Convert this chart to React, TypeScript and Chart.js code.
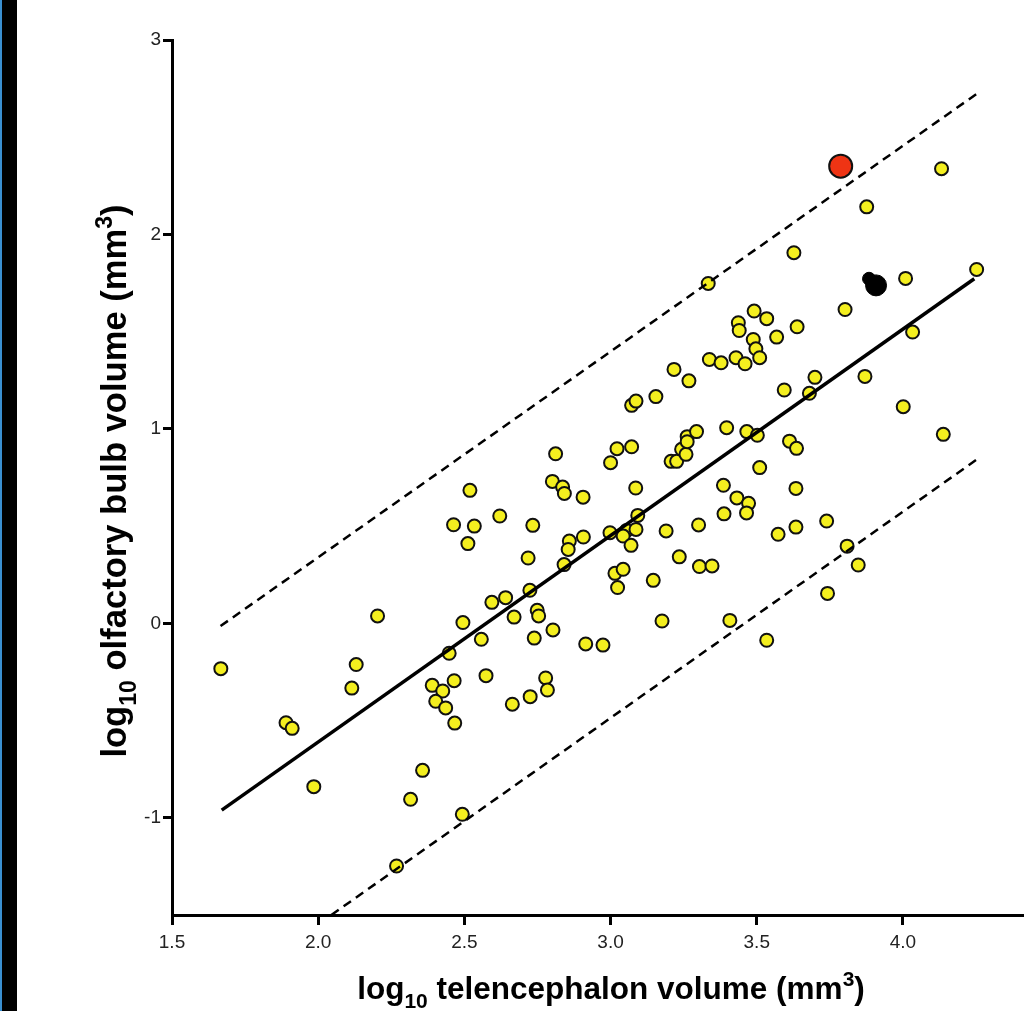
import React, { useEffect, useRef } from "react";
import { Chart, registerables } from "chart.js";

Chart.register(...registerables);

// log10 telencephalon volume (x) and log10 olfactory bulb volume (y) per species
const speciesLogTelencephalon = [
  1.667, 1.89, 1.911, 1.985, 2.13, 2.115, 2.203, 2.357, 2.316, 2.268,
  2.493, 2.495, 2.448, 2.39, 2.426, 2.465, 2.402, 2.436, 2.467, 2.558,
  2.574, 2.664, 2.725, 2.778, 2.784, 2.739, 2.803, 2.749, 2.754, 2.67,
  2.594, 2.641, 2.724, 2.718, 2.841, 2.915, 2.974, 2.519, 2.463, 2.534,
  2.512, 2.621, 2.734, 2.859, 2.855, 2.907, 2.812, 2.801, 2.836, 2.842,
  2.906, 2.998, 3.055, 3.087, 3.043, 3.093, 3.07, 3.19, 3.301, 3.388,
  3.432, 3.472, 3.465, 3.573, 3.015, 3.043, 3.024, 3.146, 3.235, 3.304,
  3.347, 3.176, 3.408, 3.534, 3.0, 3.022, 3.072, 3.086, 3.207, 3.226,
  3.243, 3.258, 3.262, 3.262, 3.294, 3.155, 3.072, 3.087, 3.217, 3.268,
  3.338, 3.378, 3.429, 3.46, 3.488, 3.497, 3.51, 3.491, 3.534, 3.437,
  3.44, 3.638, 3.568, 3.334, 3.627, 3.397, 3.466, 3.502, 3.51, 3.386,
  3.612, 3.636, 3.634, 3.594, 3.68, 3.699, 3.87, 3.802, 3.876, 4.132,
  4.009, 4.252, 4.033, 4.001, 4.138, 3.739, 3.634, 3.809, 3.847, 3.742,
];
const speciesLogOlfactoryBulb = [
  -0.233, -0.511, -0.54, -0.84, -0.212, -0.333, 0.038, -0.756, -0.905, -1.248,
  -0.982, 0.004, -0.154, -0.319, -0.348, -0.295, -0.401, -0.435, -0.513, -0.082,
  -0.269, -0.416, -0.377, -0.281, -0.343, -0.076, -0.034, 0.067, 0.038, 0.032,
  0.108, 0.132, 0.17, 0.336, 0.302, -0.106, -0.112, 0.684, 0.507, 0.5,
  0.41, 0.552, 0.504, 0.423, 0.38, 0.444, 0.872, 0.73, 0.701, 0.668,
  0.649, 0.466, 0.478, 0.483, 0.449, 0.555, 0.401, 0.475, 0.506, 0.563,
  0.645, 0.617, 0.568, 0.458, 0.257, 0.278, 0.184, 0.221, 0.342, 0.292,
  0.295, 0.012, 0.015, -0.087, 0.826, 0.898, 0.908, 0.696, 0.833, 0.833,
  0.895, 0.869, 0.96, 0.934, 0.986, 1.166, 1.121, 1.143, 1.306, 1.247,
  1.357, 1.34, 1.366, 1.335, 1.46, 1.412, 1.366, 1.606, 1.567, 1.546,
  1.506, 1.525, 1.472, 1.748, 1.906, 1.006, 0.986, 0.967, 0.801, 0.71,
  0.937, 0.9, 0.694, 1.2, 1.183, 1.265, 1.27, 1.614, 2.142, 2.338,
  1.774, 1.82, 1.498, 1.114, 0.972, 0.526, 0.495, 0.397, 0.3, 0.154,
];

const redPointX = [3.787];
const redPointY = [2.351];
const blackPointX = [3.908];
const blackPointY = [1.738];
const hiddenPointX = [3.884];
const hiddenPointY = [1.772];

const fitLineX = [1.67, 4.244];
const fitLineY = [-0.961, 1.772];
const upperBandX = [1.666, 4.254];
const upperBandY = [-0.014, 2.725];
const lowerBandX = [2.045, 4.253];
const lowerBandY = [-1.5, 0.843];

const xTickValues = [1.5, 2.0, 2.5, 3.0, 3.5, 4.0];
const yTickValues = [-1, 0, 1, 2, 3];

const xTitleParts = [
  { t: "log", k: "n" },
  { t: "10", k: "sub" },
  { t: " telencephalon volume (mm", k: "n" },
  { t: "3", k: "sup" },
  { t: ")", k: "n" },
];
const yTitleParts = [
  { t: "log", k: "n" },
  { t: "10", k: "sub" },
  { t: " olfactory bulb volume (mm", k: "n" },
  { t: "3", k: "sup" },
  { t: ")", k: "n" },
];

const FONT = '"Liberation Sans", Arial, Helvetica, sans-serif';

function zip(xs: number[], ys: number[]) {
  return xs.map((x, i) => ({ x, y: ys[i] }));
}

function drawRich(ctx: CanvasRenderingContext2D, parts: { t: string; k: string }[], cx: number, baseY: number, size: number) {
  const small = Math.round(size * 0.66);
  const fontFor = (k: string) => `bold ${k === "n" ? size : small}px ${FONT}`;
  let total = 0;
  const widths = parts.map((p) => {
    ctx.font = fontFor(p.k);
    const w = ctx.measureText(p.t).width;
    total += w;
    return w;
  });
  let x = cx - total / 2;
  ctx.textBaseline = "alphabetic";
  ctx.textAlign = "left";
  ctx.fillStyle = "#000";
  parts.forEach((p, i) => {
    ctx.font = fontFor(p.k);
    const dy = p.k === "sub" ? size * 0.28 : p.k === "sup" ? -size * 0.4 : 0;
    ctx.fillText(p.t, x, baseY + dy);
    x += widths[i];
  });
}

const titlePlugin = {
  id: "richTitles",
  afterDraw(chart: any) {
    const ctx = chart.ctx as CanvasRenderingContext2D;
    ctx.save();
    drawRich(ctx, xTitleParts, 611, 999, 31.5);
    ctx.restore();
    ctx.save();
    ctx.translate(126, 481);
    ctx.rotate(-Math.PI / 2);
    drawRich(ctx, yTitleParts, 0, 0, 34.6);
    ctx.restore();
  },
};

export default function App() {
  const ref = useRef<HTMLCanvasElement | null>(null);
  useEffect(() => {
    if (!ref.current) return;
    const chart = new Chart(ref.current, {
      type: "scatter",
      data: {
        datasets: [
          {
            type: "line",
            data: zip(fitLineX, fitLineY),
            borderColor: "#000",
            borderWidth: 3.5,
            pointRadius: 0,
            fill: false,
            order: 1,
          } as any,
          {
            type: "line",
            data: zip(upperBandX, upperBandY),
            borderColor: "#000",
            borderWidth: 2.5,
            borderDash: [9, 6],
            pointRadius: 0,
            fill: false,
            order: 1,
          } as any,
          {
            type: "line",
            data: zip(lowerBandX, lowerBandY),
            borderColor: "#000",
            borderWidth: 2.5,
            borderDash: [9, 6],
            pointRadius: 0,
            fill: false,
            order: 1,
          } as any,
          {
            data: zip(redPointX, redPointY),
            backgroundColor: "#ef3414",
            borderColor: "#111",
            borderWidth: 2,
            pointRadius: 11.5,
            order: 0,
          },
          {
            data: zip(blackPointX, blackPointY),
            backgroundColor: "#000",
            borderColor: "#000",
            borderWidth: 1,
            pointRadius: 10.5,
            order: 0,
          },
          {
            data: zip(hiddenPointX, hiddenPointY),
            backgroundColor: "#000",
            borderColor: "#000",
            borderWidth: 1,
            pointRadius: 6.5,
            order: 0,
          },
          {
            data: zip(speciesLogTelencephalon, speciesLogOlfactoryBulb),
            backgroundColor: "#f4ef1f",
            borderColor: "#111",
            borderWidth: 2,
            pointRadius: 6.5,
            order: 2,
          },
        ],
      },
      options: {
        animation: false,
        responsive: false,
        devicePixelRatio: 1,
        events: [],
        layout: { autoPadding: false, padding: { top: 40, left: 0, right: 0, bottom: 0 } },
        plugins: { legend: { display: false }, tooltip: { enabled: false } },
        scales: {
          x: {
            type: "linear",
            min: 1.5,
            max: 4.414,
            afterBuildTicks: (axis: any) => {
              axis.ticks = xTickValues.map((v) => ({ value: v }));
            },
            afterFit: (axis: any) => {
              axis.height = 96;
              axis.paddingRight = 0;
              axis.paddingLeft = 0;
            },
            ticks: {
              autoSkip: false,
              maxRotation: 0,
              padding: 6,
              color: "#222",
              font: { family: FONT, size: 19 },
              callback: (v: any) => Number(v).toFixed(1),
            },
            grid: {
              display: true,
              drawOnChartArea: false,
              drawTicks: true,
              tickLength: 10,
              tickWidth: 3,
              tickColor: "#000",
            },
            border: { display: true, color: "#000", width: 3 },
          },
          y: {
            type: "linear",
            min: -1.5,
            max: 3,
            afterBuildTicks: (axis: any) => {
              axis.ticks = yTickValues.map((v) => ({ value: v }));
            },
            afterFit: (axis: any) => {
              axis.width = 172;
              axis.paddingTop = 0;
              axis.paddingBottom = 0;
            },
            ticks: {
              autoSkip: false,
              padding: 2,
              color: "#222",
              font: { family: FONT, size: 19 },
              callback: (v: any) => String(v),
            },
            grid: {
              display: true,
              drawOnChartArea: false,
              drawTicks: true,
              tickLength: 9,
              tickWidth: 3,
              tickColor: "#000",
            },
            border: { display: true, color: "#000", width: 3 },
          },
        },
      },
      plugins: [titlePlugin],
    } as any);
    return () => chart.destroy();
  }, []);

  return (
    <div style={{ position: "fixed", left: 0, top: 0, width: 1024, height: 1011, background: "#fff", overflow: "hidden" }}>
      <canvas ref={ref} width={1024} height={1011} style={{ position: "absolute", left: 0, top: 0, width: 1024, height: 1011 }} />
      <div style={{ position: "absolute", left: 0, top: 0, width: 2, height: 1011, background: "#3a8fd0" }} />
      <div style={{ position: "absolute", left: 2, top: 0, width: 15, height: 1011, background: "#000" }} />
    </div>
  );
}
